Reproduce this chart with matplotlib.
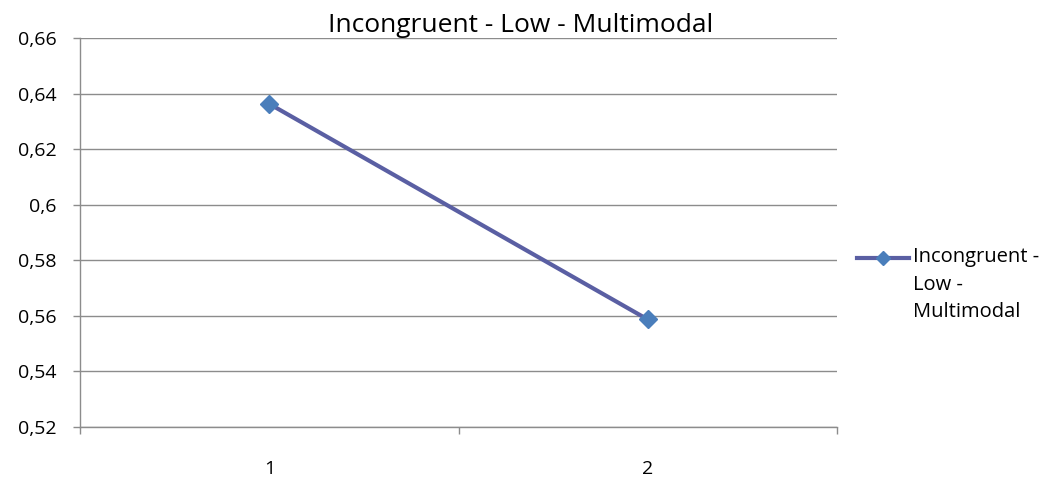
import matplotlib
matplotlib.use("Agg")
import matplotlib.pyplot as plt
from matplotlib.lines import Line2D
from matplotlib.ticker import FuncFormatter

plt.rcParams["font.family"] = ["Open Sans", "DejaVu Sans"]

categories = [1, 2]
values = [0.6363, 0.5587]
series_name = "Incongruent - Low - Multimodal"
legend_label = "Incongruent -\nLow -\nMultimodal"
y_ticks = [0.52, 0.54, 0.56, 0.58, 0.60, 0.62, 0.64, 0.66]

line_color = "#5A5FA3"
marker_color = "#4A7EBB"
grid_color = "#8C8C8C"


def comma_fmt(v, _):
    s = f"{v:.2f}".rstrip("0").rstrip(".")
    return s.replace(".", ",")


fig = plt.figure(figsize=(10.48, 4.84), dpi=100)
ax = fig.add_axes([80 / 1048, 57 / 484, 757 / 1048, 389 / 484])

ax.plot(categories, values, color=line_color, linewidth=3.0,
        marker="D", markersize=9, markerfacecolor=marker_color,
        markeredgecolor=marker_color, solid_capstyle="round", zorder=3)

ax.set_xlim(0.5, len(categories) + 0.5)
ax.set_ylim(y_ticks[0], y_ticks[-1])
ax.set_yticks(y_ticks)
ax.yaxis.set_major_formatter(FuncFormatter(comma_fmt))
ax.yaxis.grid(True, color=grid_color, linewidth=1.0)
ax.set_axisbelow(True)

# category labels in the middle, tick marks on the boundaries
ax.set_xticks(categories)
ax.set_xticklabels([str(c) for c in categories])
ax.set_xticks([c - 0.5 for c in categories] + [categories[-1] + 0.5], minor=True)
ax.tick_params(axis="x", which="major", length=0, pad=24, labelsize=14)
ax.tick_params(axis="x", which="minor", length=5, width=1, color=grid_color)
ax.tick_params(axis="y", length=5, width=1, color=grid_color, pad=12, labelsize=14)

for side in ("top", "right"):
    ax.spines[side].set_visible(False)
for side in ("left", "bottom"):
    ax.spines[side].set_color(grid_color)
    ax.spines[side].set_linewidth(1.0)

fig.text(521 / 1048, 1 - 32 / 484, series_name, ha="center", va="baseline", fontsize=19)

# legend drawn by hand so the key sits beside the first text line
key_y = 1 - 258 / 484
fig.add_artist(Line2D([857 / 1048, 909 / 1048], [key_y, key_y], color=line_color,
                      linewidth=3.0, transform=fig.transFigure))
fig.add_artist(Line2D([883 / 1048], [key_y], marker="D", markersize=7,
                      color=marker_color, transform=fig.transFigure))
fig.text(913 / 1048, 1 - 247 / 484, legend_label, ha="left", va="top",
         fontsize=14.5, linespacing=1.5)

fig.savefig("out.png", dpi=100)
